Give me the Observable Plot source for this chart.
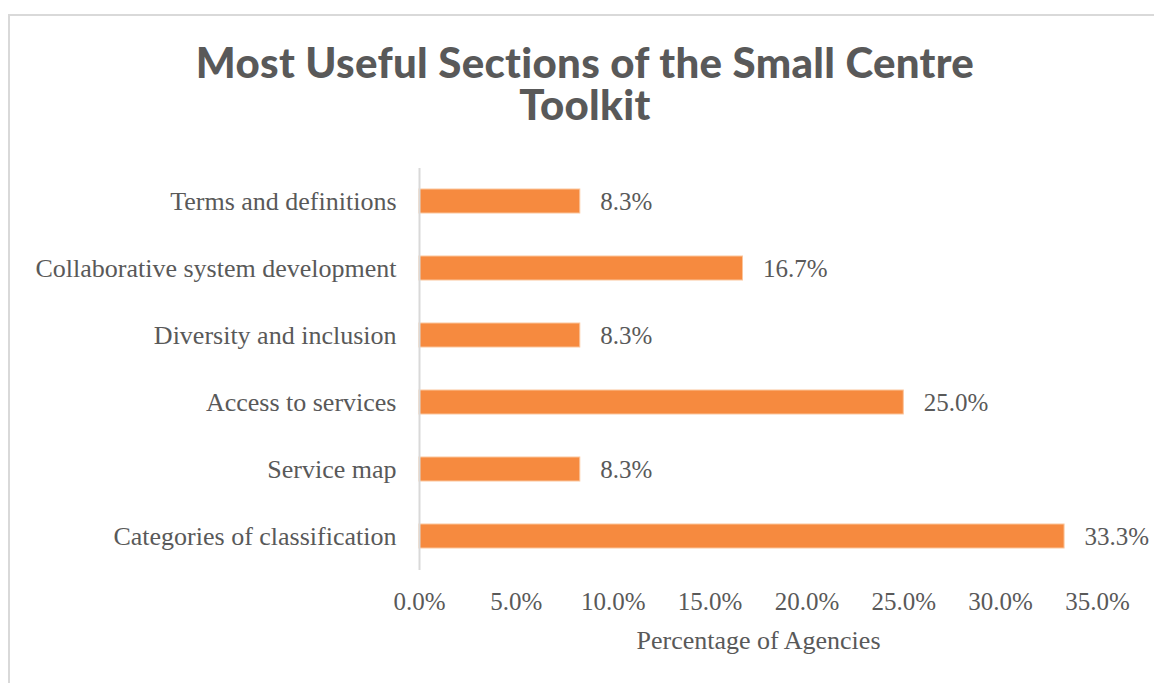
<!DOCTYPE html>
<html>
<head>
<meta charset="utf-8">
<script src="https://cdn.jsdelivr.net/npm/d3@7"></script>
<script src="https://cdn.jsdelivr.net/npm/@observablehq/plot@0.6"></script>
<style>
  html, body { margin: 0; padding: 0; background: #fff; }
  #wrap { position: relative; width: 1154px; height: 683px; overflow: hidden; }
  #frame { position: absolute; left: 8px; top: 14px; width: 1160px; height: 700px; border: 2px solid #d9d9d9; box-sizing: border-box; }
  #title { position: absolute; left: 0; top: 41px; width: 1170px; text-align: center; font-family: Lato, "Open Sans", sans-serif; font-weight: 900; font-size: 42px; line-height: 42px; letter-spacing: 0.3px; color: #595959; }
  #chart { position: absolute; left: 0; top: 150px; }
</style>
</head>
<body>
<div id="wrap">
  <div id="frame"></div>
  <div id="title">Most Useful Sections of the Small Centre<br>Toolkit</div>
  <div id="chart"></div>
</div>
<script>
const categories = [
  "Terms and definitions",
  "Collaborative system development",
  "Diversity and inclusion",
  "Access to services",
  "Service map",
  "Categories of classification"
];
const values = [8.3, 16.7, 8.3, 25.0, 8.3, 33.3];
const xTicks = [0, 5, 10, 15, 20, 25, 30, 35];

const data = categories.map((c, i) => ({category: c, value: values[i]}));
const fmt = d => d.toFixed(1) + "%";
const textColor = "#595959";
const serif = "'Liberation Serif', 'DejaVu Serif', serif";

const plot = Plot.plot({
  width: 1154,
  height: 533,
  marginLeft: 419,
  marginRight: 57,
  marginTop: 18,
  marginBottom: 113,
  style: {fontFamily: serif, color: textColor, background: "transparent"},
  x: {domain: [0, 35], ticks: xTicks, tickFormat: fmt},
  y: {domain: categories, paddingInner: 0.64, paddingOuter: 0.32},
  marks: [
    Plot.barX(data, {x: "value", y: "category", fill: "#f68a3f", stroke: "#fbc59c", strokeWidth: 1}),
    Plot.ruleX([0], {stroke: "#d9d9d9", strokeWidth: 2}),
    Plot.text(data, {x: "value", y: "category", text: d => fmt(d.value), textAnchor: "start", dx: 20, fontSize: 25, fill: textColor}),
    Plot.axisY({tickSize: 0, tickPadding: 23, fontSize: 26, label: null, fill: textColor}),
    Plot.axisX({tickSize: 0, tickPadding: 22, fontSize: 25, label: null, ticks: xTicks, tickFormat: fmt, fill: textColor}),
    Plot.text(["Percentage of Agencies"], {frameAnchor: "bottom", dy: 78, fontSize: 26, fill: textColor})
  ]
});
document.getElementById("chart").appendChild(plot);
</script>
</body>
</html>
